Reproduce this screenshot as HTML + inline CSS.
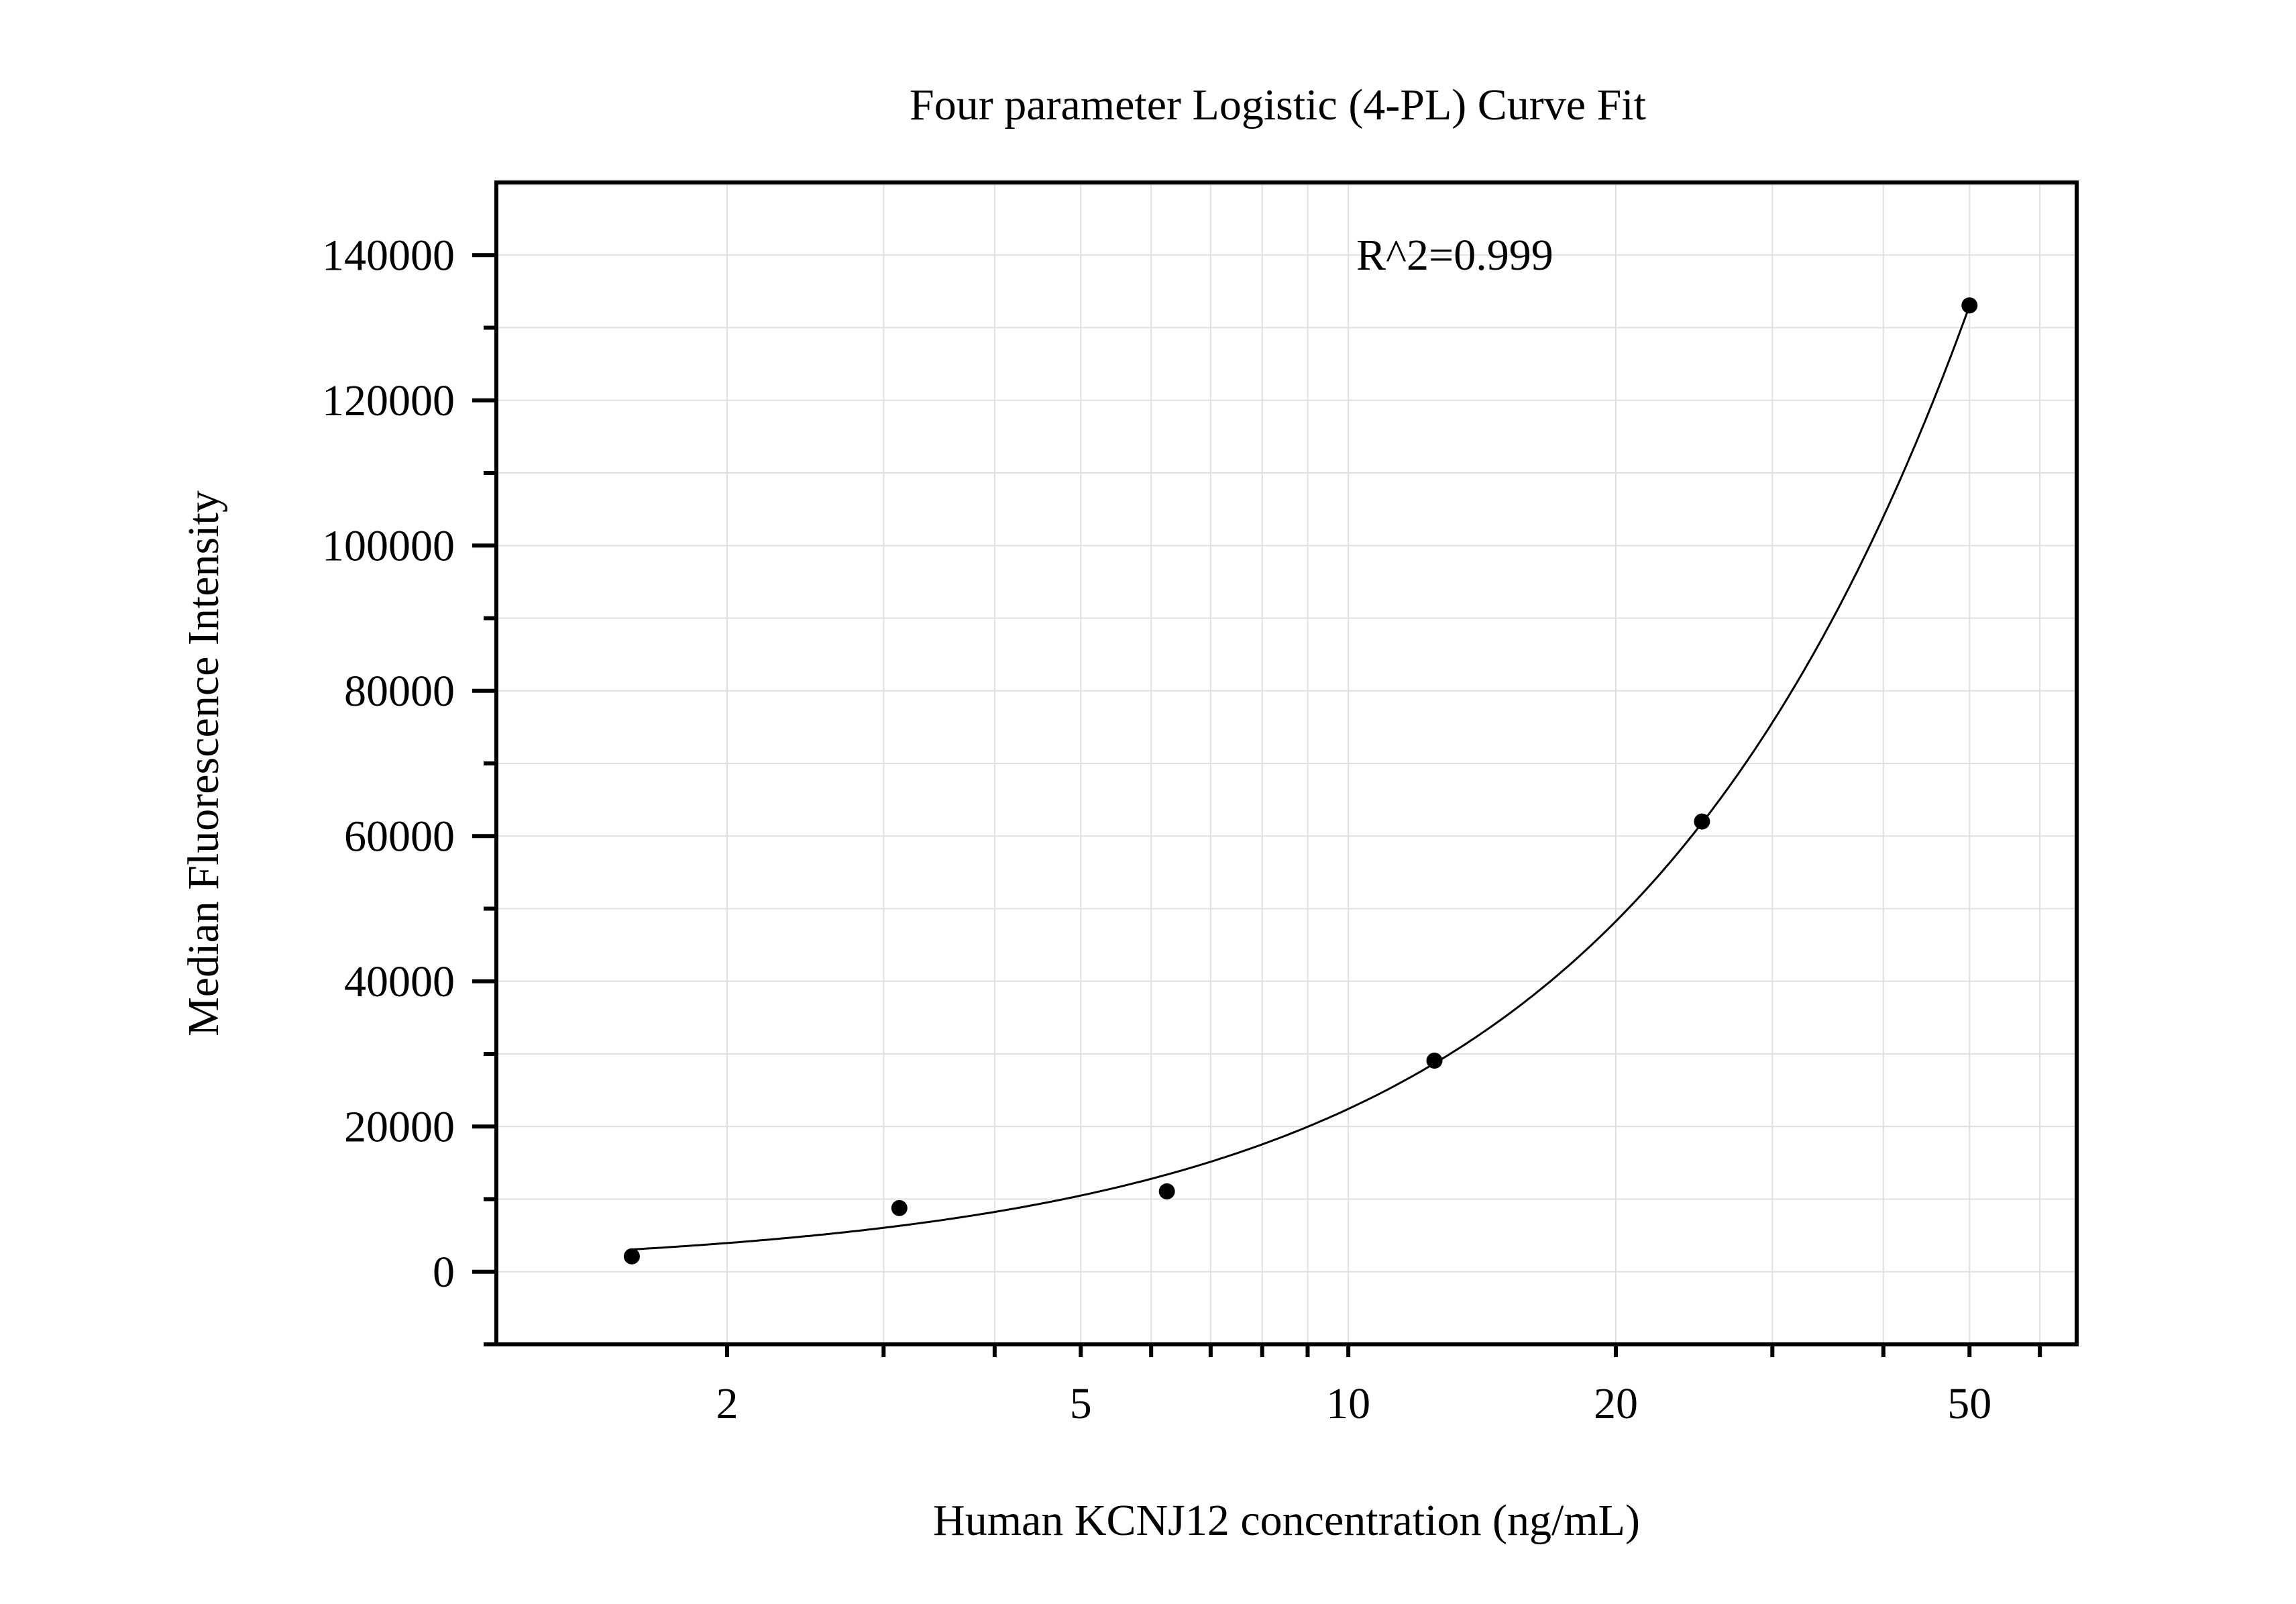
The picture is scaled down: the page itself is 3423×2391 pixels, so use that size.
<!DOCTYPE html>
<html><head><meta charset="utf-8"><style>
html,body{margin:0;padding:0;background:#fff}
svg{display:block}
text{font-family:"Liberation Serif",serif;fill:#000}
</style></head><body>
<svg id="chart" width="3423" height="2391" viewBox="0 0 3423 2391" xmlns="http://www.w3.org/2000/svg">
<rect width="3423" height="2391" fill="#fff"/>
<g id="grid"></g>
<g id="ticks"></g>
<g id="curve-g"></g>
<g id="points"></g>
<rect x="740" y="272" width="2356" height="1732" fill="none" stroke="#000" stroke-width="6"/>
<text x="1905" y="178" font-size="66" text-anchor="middle">Four parameter Logistic (4-PL) Curve Fit</text>
<text x="2022" y="402" font-size="66">R^2=0.999</text>
<text x="1918" y="2288" font-size="66" text-anchor="middle">Human KCNJ12 concentration (ng/mL)</text>
<text x="0" y="0" font-size="66" text-anchor="middle" transform="translate(325,1138) rotate(-90)">Median Fluorescence Intensity</text>
</svg>
<script>
const concentrations = [1.5625, 3.125, 6.25, 12.5, 25, 50];
const intensities = [2120, 8770, 11070, 29070, 62000, 133070];
const xTickValues = [2, 5, 10, 20, 50];
const xTickLabels = ["2", "5", "10", "20", "50"];
const xMinorValues = [2, 3, 4, 5, 6, 7, 8, 9, 10, 20, 30, 40, 50, 60];
const yTickValues = [0, 20000, 40000, 60000, 80000, 100000, 120000, 140000];
const yTickLabels = ["0", "20000", "40000", "60000", "80000", "100000", "120000", "140000"];
const yMinorValues = [-10000, 10000, 30000, 50000, 70000, 90000, 110000, 130000];
const fitParams = [300, 1.12, 2343, 10000000]; // a, b, c, d

const NS = "http://www.w3.org/2000/svg";
const X0 = 740, X1 = 3096, Y0 = 272, Y1 = 2004;
const xMin = 1.1, xMax = 66, yMin = -10000, yMax = 150000;
function xs(v){ return X0 + (Math.log10(v) - Math.log10(xMin)) / (Math.log10(xMax) - Math.log10(xMin)) * (X1 - X0); }
function ys(v){ return Y1 - (v - yMin) / (yMax - yMin) * (Y1 - Y0); }
function mk(tag, attrs, parent){ const e = document.createElementNS(NS, tag); for (const k in attrs) e.setAttribute(k, attrs[k]); parent.appendChild(e); return e; }
const grid = document.getElementById('grid');
const ticks = document.getElementById('ticks');
const chart = document.getElementById('chart');

xMinorValues.forEach(v => {
  const x = xs(v);
  const g = mk('line', {x1:x, x2:x, y1:Y0, y2:Y1, stroke:'#e0e0e0', 'stroke-width':2}, grid);
  
  
  const t = mk('line', {x1:x, x2:x, y1:Y1, y2:Y1+19, stroke:'#000', 'stroke-width':6}, ticks);
  
  
});
xTickValues.forEach((v, i) => {
  const t = mk('text', {x:xs(v), y:2114, 'font-size':66, 'text-anchor':'middle'}, chart);
  t.textContent = xTickLabels[i];
  
  
});
yTickValues.concat(yMinorValues).forEach(v => {
  const y = ys(v);
  if (v > yMin) {
    const g = mk('line', {x1:X0, x2:X1, y1:y, y2:y, stroke:'#e0e0e0', 'stroke-width':2}, grid);
    
    
  }
});
yTickValues.forEach((v, i) => {
  const y = ys(v);
  const t = mk('line', {x1:X0-36, x2:X0, y1:y, y2:y, stroke:'#000', 'stroke-width':6}, ticks);
  
  
  const l = mk('text', {x:678, y:y+22, 'font-size':66, 'text-anchor':'end'}, chart);
  l.textContent = yTickLabels[i];
  
  
});
yMinorValues.forEach(v => {
  const y = ys(v);
  const t = mk('line', {x1:X0-19, x2:X0, y1:y, y2:y, stroke:'#000', 'stroke-width':6}, ticks);
  
  
});

function fourPL(x){ const [a,b,c,d] = fitParams; return d + (a - d) / (1 + Math.pow(x / c, b)); }
let dpath = '';
const lo = concentrations[0], hi = concentrations[concentrations.length-1];
for (let i = 0; i <= 300; i++) {
  const x = Math.exp(Math.log(lo) + (Math.log(hi) - Math.log(lo)) * i / 300);
  dpath += (i ? 'L' : 'M') + xs(x).toFixed(1) + ',' + ys(fourPL(x)).toFixed(1);
}
const curve = mk('path', {d:dpath, fill:'none', stroke:'#000', 'stroke-width':3}, document.getElementById('curve-g'));



const pts = document.getElementById('points');
concentrations.forEach((c, i) => {
  const p = mk('circle', {cx:xs(c), cy:ys(intensities[i]), r:12, fill:'#000'}, pts);
  
  
});
</script>
</body></html>
